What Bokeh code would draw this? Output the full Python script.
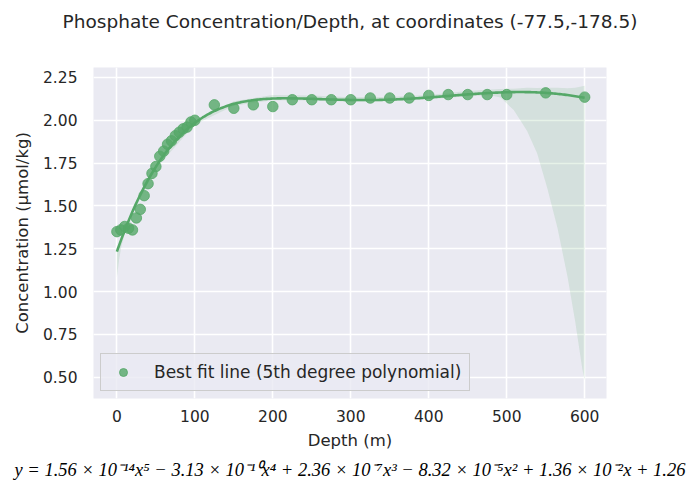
import numpy as np
from bokeh.plotting import figure
from bokeh.models import Range1d, Title, FixedTicker, NumeralTickFormatter
from bokeh.embed import file_html
from bokeh.resources import INLINE

# ---- data ----
depth = [0, 5, 10, 15, 20, 25, 30, 35, 40, 45, 50, 55, 60, 65, 70, 75, 80, 85, 90, 95, 100,
         125, 150, 175, 200, 225, 250, 275, 300, 325, 350, 375, 400, 425, 450, 475, 500, 550, 600]
conc = [1.35, 1.36, 1.38, 1.37, 1.36, 1.43, 1.48, 1.56, 1.63, 1.69, 1.73, 1.79, 1.82, 1.86, 1.88,
        1.91, 1.93, 1.95, 1.96, 1.99, 2.00,
        2.09, 2.07, 2.09, 2.08, 2.12, 2.12, 2.12, 2.12, 2.13, 2.13, 2.13, 2.145, 2.15, 2.15, 2.15,
        2.15, 2.16, 2.135]

# confidence band, as gaps below / above the fitted line
band_x = [0, 3, 6, 10, 20, 50, 100, 150, 200, 250, 300, 350, 400, 450, 470, 480, 492, 509, 526,
          539, 552, 565, 578, 588, 597, 600]
band_lo_gap = [0.15, 0.08, 0.04, 0.02, 0.012, 0.01, 0.01, 0.01, 0.01, 0.01, 0.01, 0.01, 0.01, 0.01,
               0.012, 0.015, 0.03, 0.105, 0.225, 0.355, 0.555, 0.78, 1.06, 1.32, 1.585, 1.65]
band_hi_gap = [0.01, 0.01, 0.01, 0.01, 0.01, 0.01, 0.01, 0.015, 0.02, 0.02, 0.015, 0.015, 0.015,
               0.02, 0.02, 0.02, 0.02, 0.02, 0.025, 0.025, 0.03, 0.035, 0.04, 0.05, 0.065, 0.07]

x_ticks = [0, 100, 200, 300, 400, 500, 600]
y_ticks = [0.50, 0.75, 1.00, 1.25, 1.50, 1.75, 2.00, 2.25]

title_text = "Phosphate Concentration/Depth, at coordinates (-77.5,-178.5)"
equation_text = ("y = 1.56 × 10⁻¹⁴x⁵ − 3.13 × 10⁻¹⁰x⁴ + 2.36 × 10⁻⁷x³ − 8.32 × 10⁻⁵x² "
                 "+ 1.36 × 10⁻²x + 1.26")

GREEN = "#55A868"
BG = "#EAEAF2"
TXT = "#262626"

# ---- 5th degree polynomial fit ----
coef = np.polyfit(np.array(depth, float), np.array(conc, float), 5)
fx = np.linspace(0, 600, 301)
fy = np.polyval(coef, fx)
bx = np.array(band_x, float)
bfit = np.polyval(coef, bx)
blo = bfit - np.array(band_lo_gap)
bhi = bfit + np.array(band_hi_gap)

p = figure(width=691, height=485, output_backend="svg", toolbar_location=None,
           x_range=Range1d(-30, 628), y_range=Range1d(0.376, 2.308),
           min_border_left=93, min_border_right=85, min_border_top=67, min_border_bottom=87,
           title=None)
p.background_fill_color = BG
p.border_fill_color = "white"
p.outline_line_color = None

p.varea(x=bx, y1=blo, y2=bhi, fill_color=GREEN, fill_alpha=0.15)
p.line(fx, fy, line_color=GREEN, line_width=2.6)
p.scatter(depth, conc, size=10.5, fill_color=GREEN, line_color=GREEN, fill_alpha=0.8,
          line_alpha=0.8, legend_label="Best fit line (5th degree polynomial)")

for ax in (p.xaxis[0], p.yaxis[0]):
    ax.axis_line_color = None
    ax.major_tick_line_color = None
    ax.minor_tick_line_color = None
    ax.major_tick_out = 0
    ax.major_tick_in = 0
    ax.major_label_text_font = "DejaVu Sans"
    ax.major_label_text_font_size = "15.5px"
    ax.major_label_text_color = TXT
    ax.axis_label_text_font = "DejaVu Sans"
    ax.axis_label_text_font_size = "16.5px"
    ax.axis_label_text_font_style = "normal"
    ax.axis_label_text_color = TXT

p.xaxis.ticker = FixedTicker(ticks=x_ticks)
p.yaxis.ticker = FixedTicker(ticks=y_ticks)
p.yaxis.formatter = NumeralTickFormatter(format="0.00")
p.xaxis.axis_label = "Depth (m)"
p.yaxis.axis_label = "Concentration (µmol/kg)"
p.xaxis.major_label_standoff = 11
p.yaxis.major_label_standoff = 16
p.xaxis.axis_label_standoff = 6
p.yaxis.axis_label_standoff = 8

p.xgrid.grid_line_color = "white"
p.ygrid.grid_line_color = "white"
p.xgrid.grid_line_width = 1.6
p.ygrid.grid_line_width = 1.6
p.xgrid.ticker = FixedTicker(ticks=x_ticks)
p.ygrid.ticker = FixedTicker(ticks=y_ticks)

p.legend.location = "bottom_left"
p.legend.margin = 7
p.legend.label_text_font = "DejaVu Sans"
p.legend.label_text_font_size = "17px"
p.legend.label_text_color = TXT
p.legend.background_fill_color = BG
p.legend.background_fill_alpha = 0.8
p.legend.border_line_color = "#CCCCCC"
p.legend.border_line_alpha = 1
p.legend.padding = 8
p.legend.glyph_width = 28
p.legend.label_standoff = 17

# spacer between frame and the main title
p.add_layout(Title(text=" ", text_font_size="17px"), "above")
p.add_layout(Title(text=title_text, align="center", text_font="DejaVu Sans",
                   text_font_size="18.5px", text_font_style="normal", text_color=TXT), "above")

p.add_layout(Title(text=equation_text, align="center", text_font="Liberation Serif",
                   text_font_size="18.5px", text_font_style="italic", text_color="black"),
             "below")

open("out.html", "w").write(file_html(p, INLINE))
